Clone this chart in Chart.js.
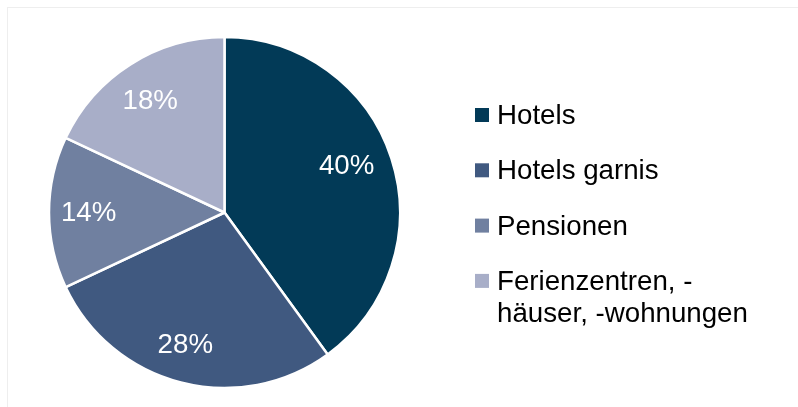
<!DOCTYPE html>
<html>
<head>
<meta charset="utf-8">
<script src="https://cdn.jsdelivr.net/npm/chart.js@4/dist/chart.umd.min.js"></script>
<style>
  html, body { margin: 0; padding: 0; background: #ffffff; }
  #wrap { position: relative; width: 798px; height: 407px; overflow: hidden; }
  #frame { position: absolute; left: 7px; top: 7px; width: 800px; height: 410px;
           border-left: 1px solid #eeeeee; border-top: 1px solid #eeeeee; box-sizing: border-box; }
  canvas { position: absolute; left: 0; top: 0; }
</style>
</head>
<body>
<div id="wrap">
  <div id="frame"></div>
  <canvas id="c" width="798" height="407"></canvas>
</div>
<script>
const categories = ["Hotels", "Hotels garnis", "Pensionen", ["Ferienzentren, -", "häuser, -wohnungen"]];
const shares = [40, 28, 14, 18];
const valueLabels = ["40%", "28%", "14%", "18%"];
const colors = ["#023a57", "#405980", "#7080a0", "#a8aec8"];

const FONT = '"Liberation Sans", Arial, sans-serif';
const FS = 27.7;
// label placement style (radius fraction, angle nudge in degrees)
const LABEL_R = [0.745, 0.786, 0.774, 0.765];
const LABEL_DA = [-2.9, 2.1, 0, -1.2];

const labelPlugin = {
  id: 'sliceLabels',
  afterDatasetsDraw(chart) {
    const ctx = chart.ctx;
    const meta = chart.getDatasetMeta(0);
    ctx.save();
    ctx.fillStyle = '#ffffff';
    ctx.font = FS + 'px ' + FONT;
    ctx.textAlign = 'center';
    ctx.textBaseline = 'middle';
    meta.data.forEach((arc, i) => {
      const p = arc.getProps(['x', 'y', 'startAngle', 'endAngle', 'outerRadius'], true);
      const mid = (p.startAngle + p.endAngle) / 2 + LABEL_DA[i] * Math.PI / 180;
      const r = p.outerRadius * LABEL_R[i];
      ctx.fillText(valueLabels[i], p.x + Math.cos(mid) * r, p.y + Math.sin(mid) * r + 1);
    });
    ctx.restore();
  }
};

const legendPlugin = {
  id: 'sideLegend',
  afterDraw(chart) {
    const ctx = chart.ctx;
    ctx.save();
    ctx.font = FS + 'px ' + FONT;
    ctx.textAlign = 'left';
    ctx.textBaseline = 'alphabetic';
    const x0 = 475, tx = 497;
    let base = 124;
    const rowGap = 55.3, lineGap = 32.4;
    chart.data.labels.forEach((lab, i) => {
      const lines = Array.isArray(lab) ? lab : [lab];
      ctx.fillStyle = chart.data.datasets[0].backgroundColor[i];
      ctx.fillRect(x0, base - 16, 14, 14);
      ctx.fillStyle = '#000000';
      lines.forEach((ln, j) => ctx.fillText(ln, tx, base + j * lineGap));
      base += rowGap + (lines.length - 1) * lineGap;
    });
    ctx.restore();
  }
};

new Chart(document.getElementById('c'), {
  type: 'pie',
  data: {
    labels: categories,
    datasets: [{
      data: shares,
      backgroundColor: colors,
      borderColor: '#ffffff',
      borderWidth: 2.5,
      hoverOffset: 0
    }]
  },
  options: {
    responsive: false,
    animation: false,
    devicePixelRatio: 1,
    radius: 175.5,
    layout: { padding: { left: 49, right: 398, top: 37, bottom: 19 } },
    plugins: {
      legend: { display: false },
      tooltip: { enabled: false }
    },
    events: []
  },
  plugins: [labelPlugin, legendPlugin]
});
</script>
</body>
</html>
